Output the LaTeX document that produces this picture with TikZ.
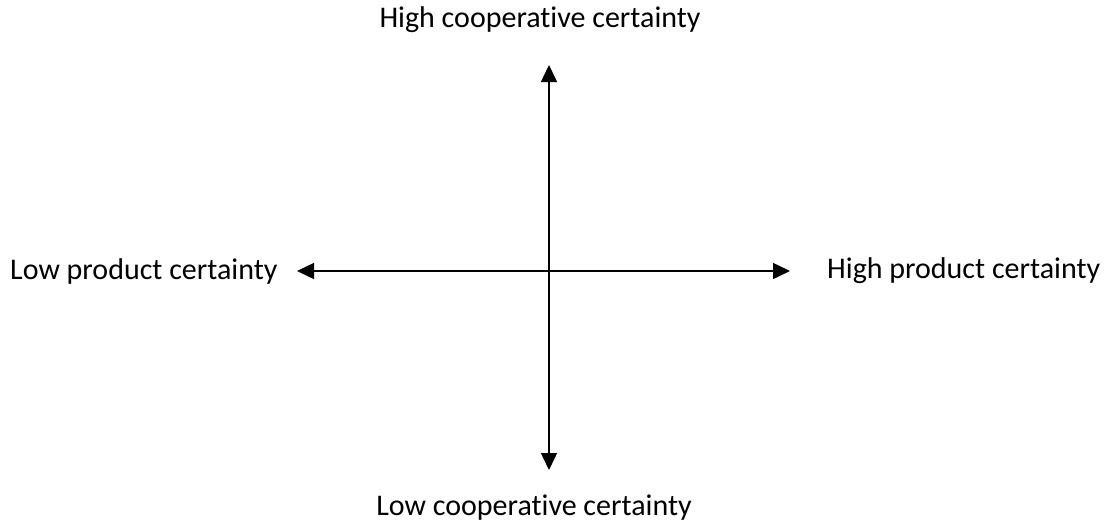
\documentclass[tikz,border=0pt]{standalone}
\usepackage{fontspec}
\setmainfont{Carlito}[RawFeature={-liga}]
\usetikzlibrary{arrows.meta}
\tikzset{
  axis/.style={line width=1.5pt, {Triangle[length=17pt,width=16pt]}-{Triangle[length=17pt,width=16pt]}},
  lbl/.style={font=\fontsize{30}{34}\selectfont, inner sep=0pt}
}
\begin{document}
\begin{tikzpicture}[x=1pt,y=-1pt]
\useasboundingbox[fill=white] (0,0) rectangle (1108,525);
\coordinate (top) at (549,65);
\coordinate (bot) at (549,470);
\coordinate (lft) at (297,271);
\coordinate (rgt) at (790,271);
\draw[axis] (bot) -- (top);
\draw[axis] (lft) -- (rgt);
\node[lbl] (hc) at (540,20) {High cooperative certainty};
\node[lbl] (lc) at (534,508) {Low cooperative certainty};
\node[lbl, anchor=west] (lp) at (10,271) {Low product certainty};
\node[lbl, anchor=west] (hp) at (827,271) {High product certainty};
\end{tikzpicture}
\end{document}
